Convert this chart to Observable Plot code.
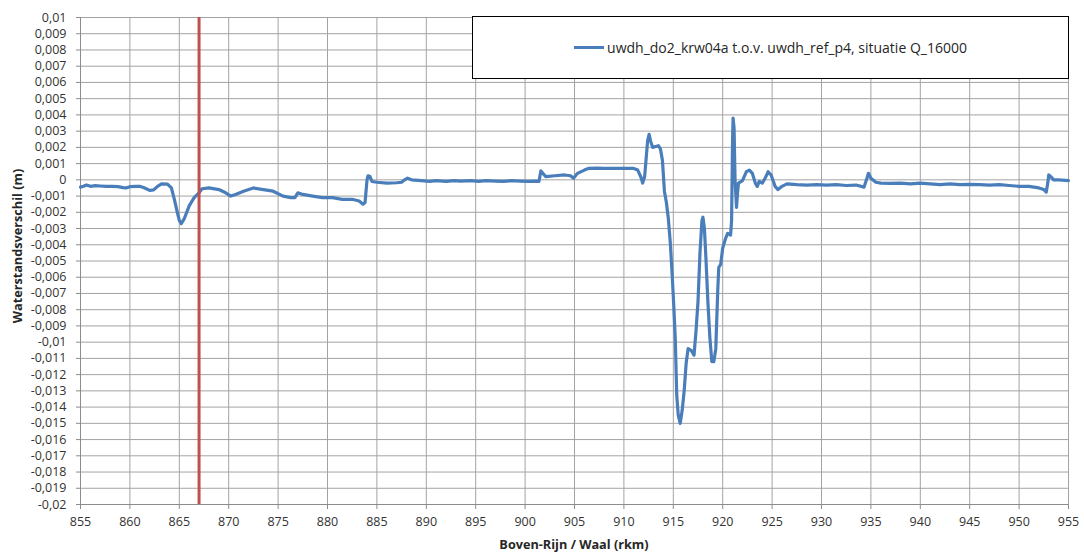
<!DOCTYPE html>
<html>
<head>
<meta charset="utf-8">
<script src="https://cdn.jsdelivr.net/npm/d3@7"></script>
<script src="https://cdn.jsdelivr.net/npm/@observablehq/plot@0.6"></script>
<style>
  html, body { margin: 0; padding: 0; background: #fff; }
  #wrap { position: relative; width: 1084px; height: 554px; font-family: "Open Sans", Lato, sans-serif; }
  #legend {
    position: absolute; left: 472px; top: 16px; width: 597px; height: 63px;
    border: 1px solid #000; background: #fff; box-sizing: border-box;
    display: flex; align-items: center; justify-content: center;
    font-size: 14px; color: #262626;
  }
  #legend .swatch { width: 30px; height: 0; border-top: 3px solid #4a7ebb; margin-right: 3px; }
</style>
</head>
<body>
<div id="wrap">
  <div id="chart"></div>
  <div id="legend"><span class="swatch"></span><span id="legend-text"></span></div>
</div>
<script>
// River kilometre (rkm) along Boven-Rijn / Waal
const km = [
  855.0, 855.3, 855.6, 856.0, 856.5, 857.0, 857.6, 858.2, 858.8, 859.3, 859.6, 860.0, 860.6, 861.0, 861.5,
  862.0, 862.4, 862.8, 863.2, 863.8, 864.2, 864.5, 864.8, 865.0, 865.2, 865.5, 866.0, 866.5, 867.0, 867.3,
  868.0, 869.0, 869.7, 870.2, 870.7, 871.5, 872.5, 873.5, 874.5, 875.5, 876.3, 876.7, 877.0, 877.5, 878.5,
  879.5, 880.5, 881.5, 882.5, 883.2, 883.6, 883.8, 884.0, 884.1, 884.3, 884.5, 885.0, 886.0, 887.0, 887.5,
  887.8, 888.1, 888.5, 889.5, 890.3, 891.0, 892.0, 892.8, 893.5, 894.5, 895.3, 896.0, 897.0, 897.8, 898.6,
  899.5, 900.3, 901.0, 901.4, 901.6, 901.8, 902.1, 903.0, 904.0, 904.6, 904.9, 905.3, 906.0, 906.4, 907.3,
  908.0, 909.0, 910.0, 911.0, 911.4, 911.7, 911.9, 912.1, 912.4, 912.55, 912.7, 912.9, 913.5, 913.7, 913.9,
  914.1, 914.3, 914.5, 914.7, 914.9, 915.05, 915.2, 915.35, 915.5, 915.7, 915.9, 916.1, 916.3, 916.5, 916.8,
  917.1, 917.3, 917.5, 917.7, 917.9, 918.0, 918.15, 918.3, 918.5, 918.7, 918.9, 919.1, 919.3, 919.5, 919.6,
  919.8, 920.0, 920.3, 920.5, 920.8, 920.9, 921.0, 921.05, 921.15, 921.25, 921.4, 921.5, 921.6, 922.0, 922.4,
  922.7, 923.0, 923.3, 923.5, 923.7, 924.0, 924.3, 924.6, 924.9, 925.3, 925.6, 926.0, 926.5, 927.5, 928.5,
  929.5, 930.5, 931.5, 932.5, 933.5, 934.3, 934.6, 934.75, 935.0, 935.5, 936.0, 937.0, 938.0, 939.0, 940.0,
  941.0, 942.0, 943.0, 944.0, 945.0, 946.0, 947.0, 948.0, 949.0, 950.0, 951.0, 952.0, 952.5, 952.75, 952.9,
  953.0, 953.2, 953.5, 954.0, 955.0
];

// Water level difference (m)
const verschil = [
  -0.00045, -0.0004, -0.00032, -0.0004, -0.00036, -0.00038, -0.0004, -0.0004, -0.00042, -0.00048, -0.0005, -0.00042, -0.0004, -0.0004, -0.0005,
  -0.00065, -0.00062, -0.0004, -0.00025, -0.00026, -0.0005, -0.0012, -0.002, -0.0025, -0.0027, -0.0024, -0.0016, -0.0011, -0.0008, -0.00055,
  -0.0005, -0.0006, -0.0008, -0.001, -0.0009, -0.0007, -0.0005, -0.0006, -0.0007, -0.001, -0.0011, -0.0011, -0.0008, -0.0009, -0.001,
  -0.0011, -0.0011, -0.0012, -0.0012, -0.0013, -0.0015, -0.0014, 0.0, 0.00025, 0.0002, -0.0001, -0.00015, -0.0002, -0.00018, -0.00015,
  0.0, 0.0001, 0.0, -0.00005, -0.0001, -0.00005, -0.0001, -0.00005, -0.00008, -0.00005, -0.0001, -0.00005, -0.00008, -0.0001, -0.00005,
  -0.00008, -0.0001, -0.00008, -0.0001, 0.00055, 0.0004, 0.0002, 0.00025, 0.0003, 0.00025, 0.0001, 0.0004, 0.0006, 0.0007, 0.00072,
  0.0007, 0.0007, 0.0007, 0.0007, 0.0006, 0.0002, -0.0002, 0.0002, 0.0024, 0.0028, 0.0024, 0.002, 0.0021, 0.0019, 0.0012,
  -0.0007, -0.0014, -0.0024, -0.0039, -0.006, -0.0078, -0.0098, -0.0133, -0.0145, -0.015, -0.0142, -0.013, -0.0113, -0.0104, -0.0105,
  -0.0108, -0.0093, -0.0075, -0.0045, -0.0025, -0.0023, -0.003, -0.0048, -0.0075, -0.0097, -0.0112, -0.0112, -0.0104, -0.0068, -0.0054,
  -0.0052, -0.0042, -0.0036, -0.0033, -0.0034, -0.0025, 0.0025, 0.0038, 0.0032, 0.0, -0.0017, -0.0008, -0.0002, -0.00005, 0.0005,
  0.0006, 0.0004, -0.0002, -0.0004, -0.0001, -0.0002, 0.0001, 0.0005, 0.0003, -0.0004, -0.0006, -0.0004, -0.00025, -0.0003, -0.00032,
  -0.0003, -0.00033, -0.0003, -0.00035, -0.00032, -0.00045, 0.0001, 0.0004, 0.0001, -0.00015, -0.0002, -0.00022, -0.0002, -0.00025, -0.0002,
  -0.00025, -0.0003, -0.00025, -0.0003, -0.00028, -0.0003, -0.00032, -0.0003, -0.00035, -0.0004, -0.0004, -0.0005, -0.0006, -0.00075, -0.0002,
  0.0003, 0.0002, 0.0, 0.0, -0.00005
];

const markerKm = [867];
const xTicks = d3.range(855, 956, 5);
const yTicks = d3.range(-20, 11, 1).map(d => d / 1000);

const seriesName = "uwdh_do2_krw04a t.o.v. uwdh_ref_p4, situatie Q_16000";
const xLabel = "Boven-Rijn / Waal (rkm)";
const yLabel = "Waterstandsverschil (m)";

const data = km.map((k, i) => ({km: k, v: verschil[i]}));

// decimal comma, hyphen minus, trailing zeros dropped
const fmt = d => d === 0 ? "0" : String(+d.toFixed(3)).replace(".", ",");

const gridColor = "#a3a3a3";
const axisColor = "#8c8c8c";
const fontFamily = "'Open Sans', Lato, sans-serif";

const chart = Plot.plot({
  width: 1084,
  height: 554,
  marginLeft: 80,
  marginRight: 16,
  marginTop: 17,
  marginBottom: 50,
  style: {fontFamily, fontSize: "12.5px", color: "#333", background: "#fff"},
  x: {domain: [855, 955]},
  y: {domain: [-0.02, 0.01]},
  marks: [
    Plot.gridX(xTicks, {stroke: gridColor, strokeOpacity: 1}),
    Plot.gridY(yTicks, {stroke: gridColor, strokeOpacity: 1}),
    Plot.ruleX([855], {stroke: axisColor}),
    Plot.ruleY([-0.02], {stroke: axisColor}),
    Plot.axisX(xTicks, {tickSize: 5, tickPadding: 8, tickFormat: d => String(d), stroke: axisColor, label: null, fontSize: 12.5}),
    Plot.axisY(yTicks, {tickSize: 4, tickPadding: 10, tickFormat: fmt, stroke: axisColor, label: null, fontSize: 12.5}),
    Plot.line(data, {x: "km", y: "v", stroke: "#4a7ebb", strokeWidth: 3.2, strokeLinejoin: "round"}),
    Plot.ruleX(markerKm, {stroke: "#c0504d", strokeWidth: 3})
  ]
});

document.getElementById("chart").appendChild(chart);
document.getElementById("legend-text").textContent = seriesName;

// axis titles
const svg = d3.select(chart);
svg.append("text")
  .attr("x", 574).attr("y", 549)
  .attr("text-anchor", "middle")
  .attr("font-family", fontFamily)
  .attr("font-weight", "bold").attr("font-size", 12.7).attr("fill", "#262626")
  .text(xLabel);
svg.append("text")
  .attr("transform", "translate(22,246) rotate(-90)")
  .attr("text-anchor", "middle")
  .attr("font-family", fontFamily)
  .attr("font-weight", "bold").attr("font-size", 12.7).attr("fill", "#262626")
  .text(yLabel);
</script>
</body>
</html>
